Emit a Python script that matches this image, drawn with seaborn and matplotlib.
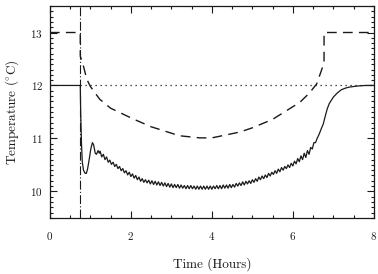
import pandas as pd
import matplotlib.pyplot as plt
import seaborn as sns
from matplotlib.ticker import MultipleLocator

# solid curve: measured temperature (hours, deg C)
solid_t = [0.0, 0.75, 0.76, 0.78, 0.80, 0.83, 0.87, 0.90, 0.93, 0.97, 1.01, 1.05, 1.08, 1.12, 1.15, 1.19, 1.22,
           1.24, 1.28, 1.32, 1.36, 1.40, 1.44, 1.48, 1.52, 1.56, 1.60, 1.64, 1.68, 1.72, 1.76, 1.80, 1.84, 1.88,
           1.92, 1.96, 2.00, 2.04, 2.08, 2.12, 2.16, 2.20, 2.24, 2.28, 2.32, 2.36, 2.40, 2.44, 2.48, 2.52, 2.56,
           2.60, 2.64, 2.68, 2.72, 2.76, 2.80, 2.84, 2.88, 2.92, 2.96, 3.00, 3.04, 3.08, 3.12, 3.16, 3.20, 3.24,
           3.28, 3.32, 3.36, 3.40, 3.44, 3.48, 3.52, 3.56, 3.60, 3.64, 3.68, 3.72, 3.76, 3.80, 3.84, 3.88, 3.92,
           3.96, 4.00, 4.04, 4.08, 4.12, 4.16, 4.20, 4.24, 4.28, 4.32, 4.36, 4.40, 4.44, 4.48, 4.52, 4.56, 4.60,
           4.64, 4.68, 4.72, 4.76, 4.80, 4.84, 4.88, 4.92, 4.96, 5.00, 5.04, 5.08, 5.12, 5.16, 5.20, 5.24, 5.28,
           5.32, 5.36, 5.40, 5.44, 5.48, 5.52, 5.56, 5.60, 5.64, 5.68, 5.72, 5.76, 5.80, 5.84, 5.88, 5.92, 5.96,
           6.00, 6.04, 6.08, 6.12, 6.16, 6.20, 6.24, 6.28, 6.32, 6.36, 6.40, 6.44, 6.48, 6.52, 6.56,
           6.60, 6.65, 6.70, 6.75, 6.80, 6.85, 6.90, 7.00, 7.10, 7.20, 7.30, 7.40, 7.60, 7.80, 8.00]
solid_temp = [12.0, 12.0, 11.5, 10.9, 10.55, 10.4, 10.34, 10.34, 10.42, 10.6, 10.8, 10.92, 10.88, 10.72, 10.70, 10.77, 10.72,
              10.76, 10.65, 10.70, 10.60, 10.65, 10.55, 10.59, 10.51, 10.55, 10.47, 10.51, 10.43, 10.47, 10.39, 10.43, 10.35, 10.39,
              10.31, 10.36, 10.28, 10.33, 10.25, 10.30, 10.22, 10.27, 10.19, 10.24, 10.17, 10.22, 10.16, 10.21, 10.14, 10.20, 10.13,
              10.19, 10.12, 10.18, 10.11, 10.17, 10.10, 10.16, 10.09, 10.15, 10.08, 10.14, 10.07, 10.13, 10.07, 10.13, 10.06, 10.12,
              10.06, 10.11, 10.05, 10.11, 10.05, 10.11, 10.05, 10.10, 10.04, 10.10, 10.04, 10.10, 10.04, 10.10, 10.04, 10.10, 10.04,
              10.10, 10.04, 10.10, 10.05, 10.11, 10.05, 10.11, 10.05, 10.12, 10.06, 10.12, 10.06, 10.13, 10.07, 10.13, 10.08, 10.15,
              10.10, 10.16, 10.11, 10.18, 10.12, 10.19, 10.14, 10.20, 10.15, 10.22, 10.17, 10.24, 10.19, 10.27, 10.22, 10.29, 10.24,
              10.31, 10.26, 10.34, 10.29, 10.36, 10.32, 10.39, 10.34, 10.42, 10.37, 10.45, 10.40, 10.47, 10.43, 10.50, 10.45, 10.53,
              10.48, 10.57, 10.52, 10.62, 10.56, 10.67, 10.60, 10.72, 10.64, 10.77, 10.70, 10.83, 10.80, 10.92, 10.92,
              11.0, 11.08, 11.18, 11.27, 11.42, 11.56, 11.66, 11.78, 11.86, 11.92, 11.95, 11.97, 11.99, 12.0, 12.0]

# dashed curve
dashed_t = [0.0, 0.75, 0.751, 0.80, 0.91, 1.0, 1.23, 1.5, 2.05, 2.5, 3.2, 3.7, 4.0, 4.69, 5.0, 5.5, 6.17, 6.4,
            6.59, 6.74, 6.77, 6.771, 8.0]
dashed_temp = [13.0, 13.0, 12.55, 12.45, 12.12, 11.98, 11.74, 11.57, 11.37, 11.22, 11.05, 11.01, 11.01, 11.12, 11.2,
               11.36, 11.68, 11.85, 12.03, 12.36, 12.42, 13.0, 13.0]

# dotted reference and switch time
dotted_t = [0.75, 8.0]
dotted_temp = [12.0, 12.0]
switch_time = 0.75


def main():
    sns.set_style('ticks')
    plt.rcParams['font.family'] = ['cmr10', 'DejaVu Serif']
    plt.rcParams['mathtext.fontset'] = 'cm'
    plt.rcParams['axes.formatter.use_mathtext'] = True
    ink = '#1a1a1a'

    fig = plt.figure(figsize=(3.78, 2.74), dpi=100)
    ax = fig.add_axes([0.132, 0.205, 0.857, 0.773])

    solid = pd.DataFrame({'t': solid_t, 'temp': solid_temp})
    dashed = pd.DataFrame({'t': dashed_t, 'temp': dashed_temp})
    dotted = pd.DataFrame({'t': dotted_t, 'temp': dotted_temp})

    sns.lineplot(data=solid, x='t', y='temp', ax=ax, sort=False, estimator=None, color=ink, lw=0.9)
    sns.lineplot(data=dashed, x='t', y='temp', ax=ax, sort=False, estimator=None, color=ink, lw=1.0,
                 ).lines[-1].set_dashes((7, 4.5))
    sns.lineplot(data=dotted, x='t', y='temp', ax=ax, sort=False, estimator=None, color=ink, lw=0.9,
                 ).lines[-1].set_linestyle((0, (1, 3)))
    ax.axvline(switch_time, color=ink, lw=0.8, linestyle=(0, (8, 2, 1, 2)))

    ax.set_xlim(0, 8)
    ax.set_ylim(9.5, 13.5)
    ax.xaxis.set_major_locator(MultipleLocator(2))
    ax.xaxis.set_minor_locator(MultipleLocator(0.5))
    ax.yaxis.set_major_locator(MultipleLocator(1))
    ax.yaxis.set_minor_locator(MultipleLocator(0.1))
    ax.tick_params(which='both', direction='in', top=True, right=True, colors=ink, width=0.8)
    ax.tick_params(which='major', length=5, labelsize=8)
    ax.tick_params(which='minor', length=2.5)
    ax.tick_params(axis='x', which='major', pad=9)
    ax.tick_params(axis='y', which='major', pad=5)
    for s in ax.spines.values():
        s.set_linewidth(0.9)
        s.set_color(ink)

    ax.set_xlabel('Time (Hours)', fontsize=9.5, labelpad=11, color=ink)
    ax.set_ylabel(r'Temperature ($^{\circ}$C)', fontsize=9.5, labelpad=7, color=ink)

    fig.savefig('out.png', dpi=100)


if __name__ == '__main__':
    main()
